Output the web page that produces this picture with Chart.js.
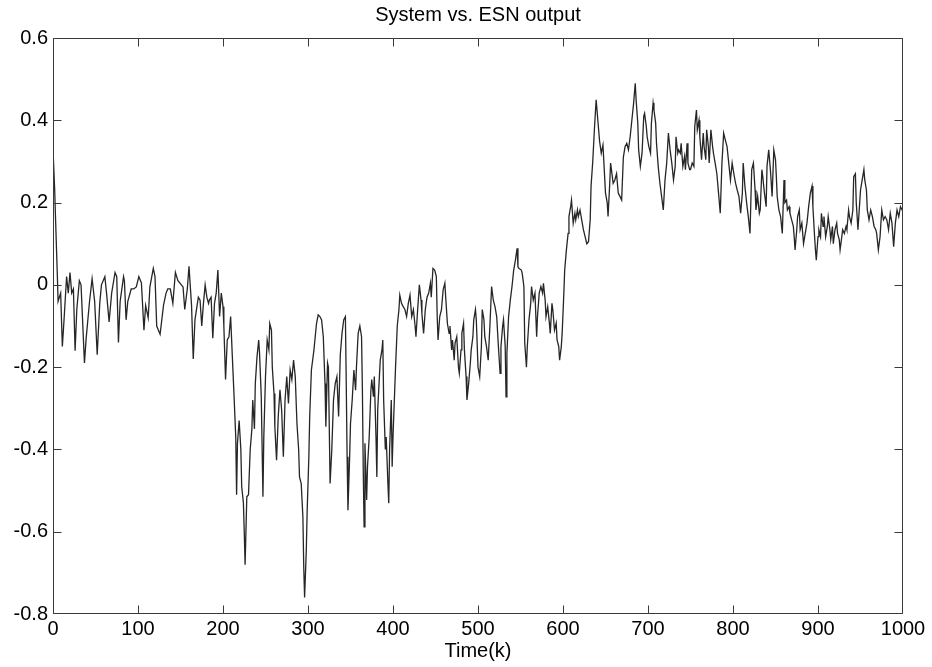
<!DOCTYPE html>
<html>
<head>
<meta charset="utf-8">
<title>System vs. ESN output</title>
<script src="https://cdn.jsdelivr.net/npm/chart.js@4.4.1/dist/chart.umd.min.js"></script>
<style>
    html, body { margin: 0; padding: 0; background: #ffffff; }
    #grafico { display: block; }
</style>
</head>
<body>
<canvas id="grafico" width="932" height="667"></canvas>
<script>
/* Valores: instante k e saída correspondente */
const times = [
    0, 2, 3, 5, 6, 9, 11, 13, 16, 18,
    20, 22, 24, 26, 28, 31, 33, 37, 39, 43,
    46, 49, 52, 55, 57, 61, 63, 66, 69, 73,
    75, 77, 79, 83, 84, 86, 88, 92, 95, 98,
    101, 104, 107, 109, 112, 114, 118, 120, 122, 126,
    130, 133, 135, 138, 141, 144, 147, 151, 153, 155,
    158, 160, 163, 165, 167, 171,

    173, 175, 177, 179, 181, 183, 184, 186, 188, 190,
    192, 194, 196, 198, 200, 201, 203, 205, 207, 209,
    211, 213, 215, 216, 217, 219, 221, 222, 224, 225,
    226, 228, 230, 232, 234, 235, 237, 238, 240, 242,
    243, 245, 247, 248, 250, 252, 254, 255, 257, 258,
    260, 261, 263, 265, 267, 269, 271, 273, 275, 277,
    279, 281, 283, 285, 287, 289, 290, 292, 294, 295,
    296, 298, 299, 301, 302, 304, 307, 310, 312, 314,
    316, 318, 320, 321, 323, 324, 326, 328, 330, 332,
    334, 336,

    338, 340, 342, 344, 345, 346, 347, 349, 350, 352,
    354, 356, 357, 359, 361, 363, 364, 365, 366, 367,
    369, 370, 372, 374, 375, 377, 378, 380, 381, 382,
    384, 385, 387, 388, 389, 391, 392, 394, 395, 396,
    398, 399, 400, 402, 403, 405, 407, 408, 410, 412,
    414, 416, 418, 420, 422, 424, 426, 427, 429, 431,
    433, 434, 436, 438, 440, 442, 444, 445, 447, 449,
    451, 452, 453, 455, 457, 459, 461, 462, 464, 466,
    467, 469, 470, 472, 473, 475, 477, 478, 480, 481,
    483, 484, 486, 487, 489, 491, 492, 494, 495, 497,

    498, 500, 502, 504, 505, 507, 508, 510, 512, 514,
    516, 518, 520, 522, 524, 526, 527, 529, 530, 532,
    533, 534, 536, 538, 540, 542, 544, 546, 547, 548,
    551, 552, 554, 555, 557, 558, 560, 562, 563, 565,
    567, 569, 570, 572, 574, 576, 577, 579, 580, 582,
    584, 585, 587, 588, 590, 592, 593, 595, 596, 598,
    599, 601, 602, 604, 606, 607, 609, 610, 612, 614,
    615, 617, 618, 620, 622, 624, 626, 628, 630, 632,
    633, 635, 637, 639, 641, 643, 645, 647, 650, 652,
    653, 655,

    656, 657, 659, 661, 663, 665, 667, 669, 671, 673,
    675, 677, 679, 681, 683, 685, 686, 688, 689, 691,
    693, 695, 696, 698, 699, 701, 703, 704, 706, 707,
    709, 710, 712, 714, 716, 718, 720, 722, 724, 726,
    728, 730, 732, 733, 735, 736, 738, 739, 741, 743,
    744, 746, 747, 749, 750, 752, 754, 755, 757, 758,
    760, 761, 763, 765, 766, 768, 769, 771, 772, 774,
    776, 777, 779, 781, 783, 785, 787, 789, 791, 793,
    795, 797, 799, 801, 803, 805, 807, 809, 811, 812,
    814, 816, 818, 820,

    822, 824, 826, 827, 829, 831, 832, 834, 835, 837,
    839, 840, 842, 844, 846, 848, 850, 851, 852, 854,
    856, 858, 860, 861, 863, 864, 866, 867, 869, 871,
    872, 873, 875, 876, 878, 879, 881, 883, 885, 887,
    889, 891, 893, 894, 896, 897, 898, 900, 901, 903,
    904, 906, 907, 909, 911, 912, 914, 915, 917, 918,
    920, 922, 923, 925, 926, 928, 929, 931, 933, 934,
    936, 937, 939, 941, 942, 944, 945, 947, 948, 950,
    952, 954, 955, 957, 958, 960, 962, 964, 966, 968,
    969, 971, 973, 975, 977, 979, 981, 983, 985, 987,
    989, 991, 993, 995, 997, 999, 1000
];

const values = [
    0.33, 0.23, 0.16, 0.03, -0.04, -0.02, -0.15, -0.085, 0.02, -0.02,
    0.03, -0.02, -0.01, -0.16, -0.06, 0.01, 0, -0.19, -0.13, -0.04,
    0.015, -0.04, -0.17, -0.045, 0, 0.02, -0.02, -0.09, -0.02, 0.03,
    0.02, -0.14, -0.04, 0.02, 0.01, -0.085, -0.04, -0.01, -0.01, -0.005,
    0.02, 0.005, -0.11, -0.05, -0.08, -0.005, 0.04, 0.02, -0.1, -0.12,
    -0.05, -0.02, -0.01, -0.01, -0.045, 0.03, 0.01, 0, -0.005, -0.06,
    -0.01, 0.045, -0.05, -0.18, -0.085, -0.03,

    -0.037, -0.1, -0.045, 0, -0.03, -0.045, -0.037, -0.03, -0.13, -0.045,
    -0.02, 0.036, -0.077, -0.02, -0.053, -0.1, -0.23, -0.134, -0.126, -0.077,
    -0.175, -0.27, -0.37, -0.51, -0.385, -0.33, -0.4, -0.49, -0.53, -0.6,
    -0.68, -0.515, -0.51, -0.4, -0.35, -0.28, -0.35, -0.24, -0.175, -0.134,
    -0.167, -0.27, -0.515, -0.37, -0.223, -0.134, -0.158, -0.094, -0.11, -0.2,
    -0.264, -0.345, -0.426, -0.32, -0.255, -0.304, -0.418, -0.28, -0.223, -0.288,
    -0.207, -0.23, -0.183, -0.223, -0.337, -0.4, -0.467, -0.483, -0.564, -0.686,
    -0.76, -0.645, -0.55, -0.418, -0.32, -0.207, -0.158, -0.094, -0.073, -0.077,
    -0.085, -0.126, -0.24, -0.345, -0.19, -0.2, -0.483, -0.4, -0.28, -0.24,
    -0.223, -0.32,

    -0.17, -0.118, -0.085, -0.077, -0.24, -0.418, -0.548, -0.418, -0.337, -0.28,
    -0.207, -0.256, -0.2, -0.118, -0.1, -0.126, -0.256, -0.45, -0.588, -0.385,
    -0.523, -0.442, -0.37, -0.256, -0.23, -0.272, -0.223, -0.37, -0.467, -0.304,
    -0.223, -0.183, -0.158, -0.134, -0.28, -0.4, -0.37, -0.483, -0.531, -0.4,
    -0.28, -0.442, -0.37, -0.256, -0.2, -0.1, -0.06, -0.025, -0.045, -0.053,
    -0.06, -0.077, -0.045, -0.025, -0.077, -0.06, -0.1, -0.126, -0.06, 0,
    -0.037, -0.07, -0.118, -0.06, -0.03, -0.02, 0.004, -0.03, 0.04, 0.036,
    0.02, -0.077, -0.134, -0.077, -0.06, -0.012, 0.004, -0.03, -0.094, -0.118,
    -0.1, -0.158, -0.134, -0.183, -0.142, -0.126, -0.2, -0.215, -0.158, -0.118,
    -0.094, -0.158, -0.223, -0.28, -0.24, -0.19, -0.158, -0.126, -0.085, -0.06,

    -0.085, -0.2, -0.223, -0.15, -0.06, -0.085, -0.126, -0.15, -0.183, -0.1,
    -0.004, -0.037, -0.053, -0.077, -0.15, -0.215, -0.15, -0.1, -0.085, -0.15,
    -0.272, -0.167, -0.077, -0.037, -0.004, 0.036, 0.06, 0.089, 0.044, 0.04,
    0.036, 0.028, -0.004, -0.142, -0.2, -0.15, -0.085, -0.045, -0.004, -0.037,
    -0.02, -0.126, -0.077, -0.02, -0.004, -0.02, 0.004, -0.037, -0.077, -0.053,
    -0.093, -0.118, -0.045, -0.06, -0.11, -0.093, -0.134, -0.15, -0.183, -0.15,
    -0.118, -0.02, 0.036, 0.085, 0.125, 0.166, 0.19, 0.206, 0.15, 0.174,
    0.158, 0.182, 0.166, 0.182, 0.158, 0.134, 0.117, 0.1, 0.105, 0.158,
    0.24, 0.3, 0.38, 0.45, 0.4, 0.35, 0.32, 0.34, 0.223, 0.2,
    0.166, 0.247,

    0.296, 0.28, 0.247, 0.255, 0.27, 0.223, 0.215, 0.206, 0.31, 0.336,
    0.344, 0.328, 0.36, 0.4, 0.44, 0.49, 0.45, 0.393, 0.328, 0.288,
    0.32, 0.41, 0.417, 0.385, 0.36, 0.336, 0.32, 0.393, 0.442, 0.425,
    0.393, 0.344, 0.288, 0.247, 0.215, 0.182, 0.255, 0.296, 0.369, 0.328,
    0.296, 0.255, 0.288, 0.36, 0.32, 0.328, 0.32, 0.344, 0.288, 0.312,
    0.28, 0.344, 0.296, 0.28, 0.28, 0.296, 0.288, 0.385, 0.425, 0.377,
    0.4, 0.36, 0.304, 0.369, 0.336, 0.304, 0.377, 0.336, 0.296, 0.377,
    0.336, 0.32, 0.296, 0.27, 0.223, 0.174, 0.296, 0.369, 0.352, 0.336,
    0.296, 0.255, 0.296, 0.27, 0.247, 0.23, 0.215, 0.174, 0.223, 0.296,
    0.24, 0.2, 0.166, 0.125,

    0.28, 0.296, 0.23, 0.182, 0.215, 0.174, 0.182, 0.28, 0.263, 0.223,
    0.19, 0.288, 0.328, 0.28, 0.215, 0.328, 0.304, 0.263, 0.215, 0.182,
    0.166, 0.125, 0.255, 0.2, 0.206, 0.182, 0.19, 0.174, 0.158, 0.142,
    0.117, 0.085, 0.134, 0.166, 0.182, 0.134, 0.15, 0.1, 0.125, 0.15,
    0.19, 0.223, 0.24, 0.19, 0.117, 0.085, 0.06, 0.117, 0.134, 0.117,
    0.174, 0.142, 0.166, 0.117, 0.142, 0.166, 0.134, 0.11, 0.142, 0.1,
    0.134, 0.15, 0.125, 0.11, 0.085, 0.117, 0.134, 0.125, 0.142, 0.134,
    0.182, 0.166, 0.15, 0.182, 0.263, 0.27, 0.2, 0.134, 0.166, 0.23,
    0.255, 0.28, 0.255, 0.23, 0.182, 0.158, 0.182, 0.166, 0.142, 0.134,
    0.125, 0.085, 0.117, 0.182, 0.158, 0.166, 0.158, 0.134, 0.174, 0.15,
    0.093, 0.15, 0.182, 0.166, 0.19, 0.182, 0.19
];

/* Limites e marcas dos eixos */
const xTicks = [0, 100, 200, 300, 400, 500, 600, 700, 800, 900, 1000];
const yTicks = [-0.8, -0.6, -0.4, -0.2, 0, 0.2, 0.4, 0.6];

const fonte = "'Liberation Sans', Arial, Helvetica, sans-serif";

/* Pares (k, saída) para o dataset */
const pontos = [];
for (let i = 0; i < Math.min(times.length, values.length); i++) {
    pontos.push({ x: times[i], y: values[i] });
}

/* Moldura fechada e marcas para dentro, à maneira do MATLAB */
const molduraMatlab = {
    id: 'molduraMatlab',
    afterDatasetsDraw: function (chart) {
        const ctx = chart.ctx;
        const area = chart.chartArea;
        const x = chart.scales.x;
        const y = chart.scales.y;
        const comp = 8;

        const l = Math.round(area.left) + 0.5;
        const r = Math.round(area.right) - 0.5;
        const t = Math.round(area.top) + 0.5;
        const b = Math.round(area.bottom) - 0.5;

        ctx.save();
        ctx.strokeStyle = '#3a3a3a';
        ctx.lineWidth = 1;
        ctx.beginPath();
        ctx.rect(l, t, r - l, b - t);

        x.ticks.forEach(function (tick) {
            const px = Math.min(r, Math.max(l, Math.round(x.getPixelForValue(tick.value)) + 0.5));
            ctx.moveTo(px, b);
            ctx.lineTo(px, b - comp);
            ctx.moveTo(px, t);
            ctx.lineTo(px, t + comp);
        });

        y.ticks.forEach(function (tick) {
            const py = Math.min(b, Math.max(t, Math.round(y.getPixelForValue(tick.value)) + 0.5));
            ctx.moveTo(l, py);
            ctx.lineTo(l + comp, py);
            ctx.moveTo(r, py);
            ctx.lineTo(r - comp, py);
        });

        ctx.stroke();
        ctx.restore();
    }
};

new Chart(document.getElementById('grafico'), {
    type: 'line',
    data: {
        datasets: [{
            label: 'System',
            data: pontos,
            borderColor: '#262626',
            borderWidth: 1.3,
            pointRadius: 0,
            tension: 0,
            fill: false
        }]
    },
    options: {
        responsive: false,
        animation: false,
        events: [],
        layout: {
            padding: { top: 0, right: 29, bottom: 0, left: 0 }
        },
        plugins: {
            legend: { display: false },
            tooltip: { enabled: false },
            title: {
                display: true,
                text: 'System vs. ESN output',
                fullSize: false,
                color: '#000000',
                font: { family: fonte, size: 20, weight: 'normal' },
                padding: { top: 3, bottom: 11 }
            }
        },
        scales: {
            x: {
                type: 'linear',
                min: xTicks[0],
                max: xTicks[xTicks.length - 1],
                afterBuildTicks: function (scale) {
                    scale.ticks = xTicks.map(function (v) { return { value: v }; });
                },
                afterFit: function (scale) {
                    scale.height = 53;
                },
                grid: { display: false, drawTicks: false },
                border: { display: false },
                ticks: {
                    autoSkip: false,
                    maxRotation: 0,
                    padding: 3,
                    color: '#000000',
                    font: { family: fonte, size: 20 },
                    callback: function (v) {
                        return String(v);
                    }
                },
                title: {
                    display: true,
                    text: 'Time(k)',
                    color: '#000000',
                    font: { family: fonte, size: 20 },
                    padding: { top: 0, bottom: 4 }
                }
            },
            y: {
                type: 'linear',
                min: yTicks[0],
                max: yTicks[yTicks.length - 1],
                afterBuildTicks: function (scale) {
                    scale.ticks = yTicks.map(function (v) { return { value: v }; });
                },
                afterFit: function (scale) {
                    scale.width = 53;
                },
                grid: { display: false, drawTicks: false },
                border: { display: false },
                ticks: {
                    autoSkip: false,
                    padding: 5,
                    color: '#000000',
                    font: { family: fonte, size: 20 },
                    callback: function (v) {
                        return String(Number(v.toFixed(1)));
                    }
                }
            }
        }
    },
    plugins: [molduraMatlab]
});
</script>
</body>
</html>
